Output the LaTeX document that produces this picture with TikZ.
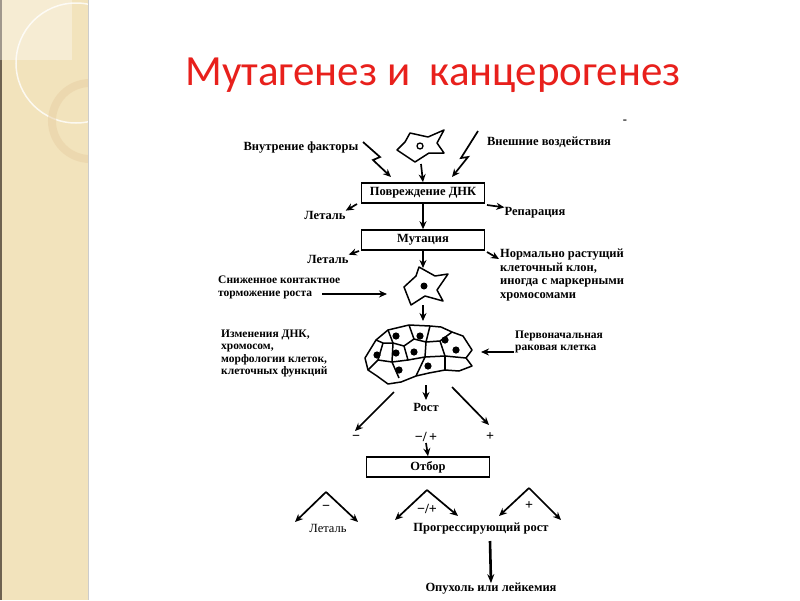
\documentclass[tikz,border=0pt]{standalone}
\usepackage{fontspec}
\setmainfont{Liberation Serif}
\newfontfamily\titlefont{Carlito}
\usetikzlibrary{arrows.meta}
\definecolor{side}{HTML}{F2E3BC}
\definecolor{sideedge}{HTML}{6E6250}
\definecolor{ttl}{HTML}{E8201C}
\begin{document}
\begin{tikzpicture}[x=1pt,y=-1pt,
  lbl/.style={font=\fontsize{12.5}{13.5}\selectfont\bfseries, inner sep=0pt},
  lbll/.style={lbl, align=left},
  lbls/.style={font=\fontsize{11.5}{12.2}\selectfont\bfseries, inner sep=0pt, align=left},
  boxx/.style={draw, line width=1.6pt, minimum width=123pt, minimum height=20pt, font=\fontsize{12.5}{13}\selectfont\bfseries, inner sep=0pt},
  arr/.style={line width=1.7pt, -{Stealth[length=8pt,width=7pt]}},
  cellline/.style={line width=1.5pt, line join=round}]
\useasboundingbox (0,0) rectangle (800,600);
\fill[white] (0,0) rectangle (800,600);
% sidebar
\fill[side] (0,0) rectangle (88,600);
\fill[sideedge] (0,0) rectangle (2,600);
\fill[white, opacity=0.35] (0,0) rectangle (72,60);
\draw[white, line width=1.5pt, opacity=0.8] (76,63) circle (60);
\draw[side!80!brown, line width=8pt, opacity=0.5] (90,121) circle (38);
\fill[white] (88,0) rectangle (800,600);
\draw[gray!40] (88,0) -- (88,600);
% title
\node[font=\titlefont\fontsize{43}{46}\selectfont, text=ttl] (title) at (433,75) {Мутагенез и\ \ канцерогенез};
% top cell
\coordinate (c1) at (421,147);
\draw[cellline] (397,150) -- (405,142) -- (410,133) -- (428,137) -- (444,130) -- (437,143) -- (444,153) -- (429,153) -- (415,162) -- cycle;
\draw[line width=1.3pt] (420,146) circle (3);
\node[lbl] (inner) at (301,148) {Внутрение факторы};
\node[lbl] (outer) at (549,142) {Внешние воздействия};
\coordinate (l1) at (363,142);
\coordinate (r1) at (478,131);
\draw[arr] (l1) -- (380,157) -- (373,160) -- (391,177);
\draw[arr] (r1) -- (461,158) -- (468,157) -- (452,177);
\node[boxx] (dmg) at (423,193) {Повреждение ДНК};
\draw[arr] (421,164) -- (dmg.north);
\node[lbl] (let1) at (325,215) {Леталь};
\node[lbl] (rep) at (535,213) {Репарация};
\draw[arr] (357,204) -- (let1.north east);
\draw[arr] (487,205) -- (rep.north west);
\node[boxx] (mut) at (423,240) {Мутация};
\draw[arr] (dmg.south) -- (mut.north);
\node[lbl] (let2) at (328,259) {Леталь};
\draw[arr] (359,251) -- (let2.north east);
\node[lbll, anchor=north west] (norm) at (500,249) {Нормально растущий\\клеточный клон,\\иногда с маркерными\\хромосомами};
\draw[arr] (487,252) -- (499,259);
% cell 2
\coordinate (c2) at (424,286);
\draw[cellline] (404,287) -- (416,276) -- (419,267) -- (435,276) -- (448,274) -- (437,290) -- (443,301) -- (425,296) -- (411,305) -- cycle;
\fill (424,286) circle (3.5);
\draw[arr] (mut.south) -- (423,268);
\node[lbls, anchor=north west] (snz) at (218,276) {Сниженное контактное\\торможение роста};
\draw[arr] (322,294) -- (387,294);
\draw[arr] (423,305) -- (423,321);
% cluster
\begin{scope}[cellline]
\draw (376,340) -- (388,330) -- (409,325) -- (430,326) -- (441,327) -- (452,332) -- (463,336) -- (472,350) -- (466,358) -- (472,366) -- (459,371) -- (445,370) -- (429,373) -- (416,376) -- (401,382) -- (388,384) -- (377,376) -- (368,370) -- (365,358) -- cycle;
\draw (388,330) -- (393,343) -- (404,346) -- (414,339) -- (409,325);
\draw (414,339) -- (426,342) -- (430,326);
\draw (426,342) -- (440,341) -- (452,332);
\draw (440,341) -- (445,356) -- (466,358);
\draw (376,340) -- (383,343) -- (393,343);
\draw (383,343) -- (378,360) -- (368,370);
\draw (393,343) -- (392,362) -- (378,360);
\draw (404,346) -- (408,360) -- (392,362);
\draw (408,360) -- (425,357) -- (426,342);
\draw (425,357) -- (445,356);
\draw (392,362) -- (399,378);
\draw (425,357) -- (416,376);
\draw (445,356) -- (445,370);
\end{scope}
\foreach \p in {(396,336),(420,336),(445,340),(377,355),(396,353),(414,352),(456,350),(399,370),(428,366)} \fill \p circle (3.6);
\node[lbls, anchor=north west] (izm) at (221,330) {Изменения ДНК,\\хромосом,\\морфологии клеток,\\клеточных функций};
\node[lbls, anchor=north west] (perv) at (515,331) {Первоначальная\\раковая клетка};
\draw[arr] (514,352) -- (481,352);
\draw[arr] (426,385) -- (426,400);
\node[lbl] (rost) at (426,407) {Рост};
\draw[arr] (394,392) -- (355,431);
\draw[arr] (452,387) -- (489,425);
\node[lbl] (m1) at (356,438) {\fontsize{14}{14}\selectfont −};
\node[lbl] (p1) at (490,437) {\fontsize{14}{14}\selectfont +};
\node[lbl] (mp1) at (426,437) {\fontsize{14}{14}\selectfont −/\,+};
\node[boxx] (otb) at (428,467) {Отбор};
\draw[arr] (426,443) -- (otb.north);
% wedges
\draw[arr] (326,492) -- (295,522);
\draw[arr] (326,492) -- (358,522);
\node[lbl] (m2) at (326,508) {\fontsize{14}{14}\selectfont −};
\node[lbl, font=\fontsize{12.5}{13}\selectfont\mdseries] (let3) at (328,528) {Леталь};
\draw[arr] (427,490) -- (395,520);
\draw[arr] (427,490) -- (458,516);
\node[lbl] (mp2) at (427,509) {\fontsize{14}{14}\selectfont −/+};
\draw[arr] (529,488) -- (499,516);
\draw[arr] (529,488) -- (561,520);
\node[lbl] (p2) at (529,506) {\fontsize{14}{14}\selectfont +};
\node[lbl] (prog) at (481,529) {Прогрессирующий рост};
\node[lbl] (tum) at (491,589) {Опухоль или лейкемия};
\draw[line width=2.6pt, -{Stealth[length=9pt,width=7pt]}] (490,541) -- (tum.north);
\node[lbl] (dash) at (625,122) {-};
\end{tikzpicture}
\end{document}
